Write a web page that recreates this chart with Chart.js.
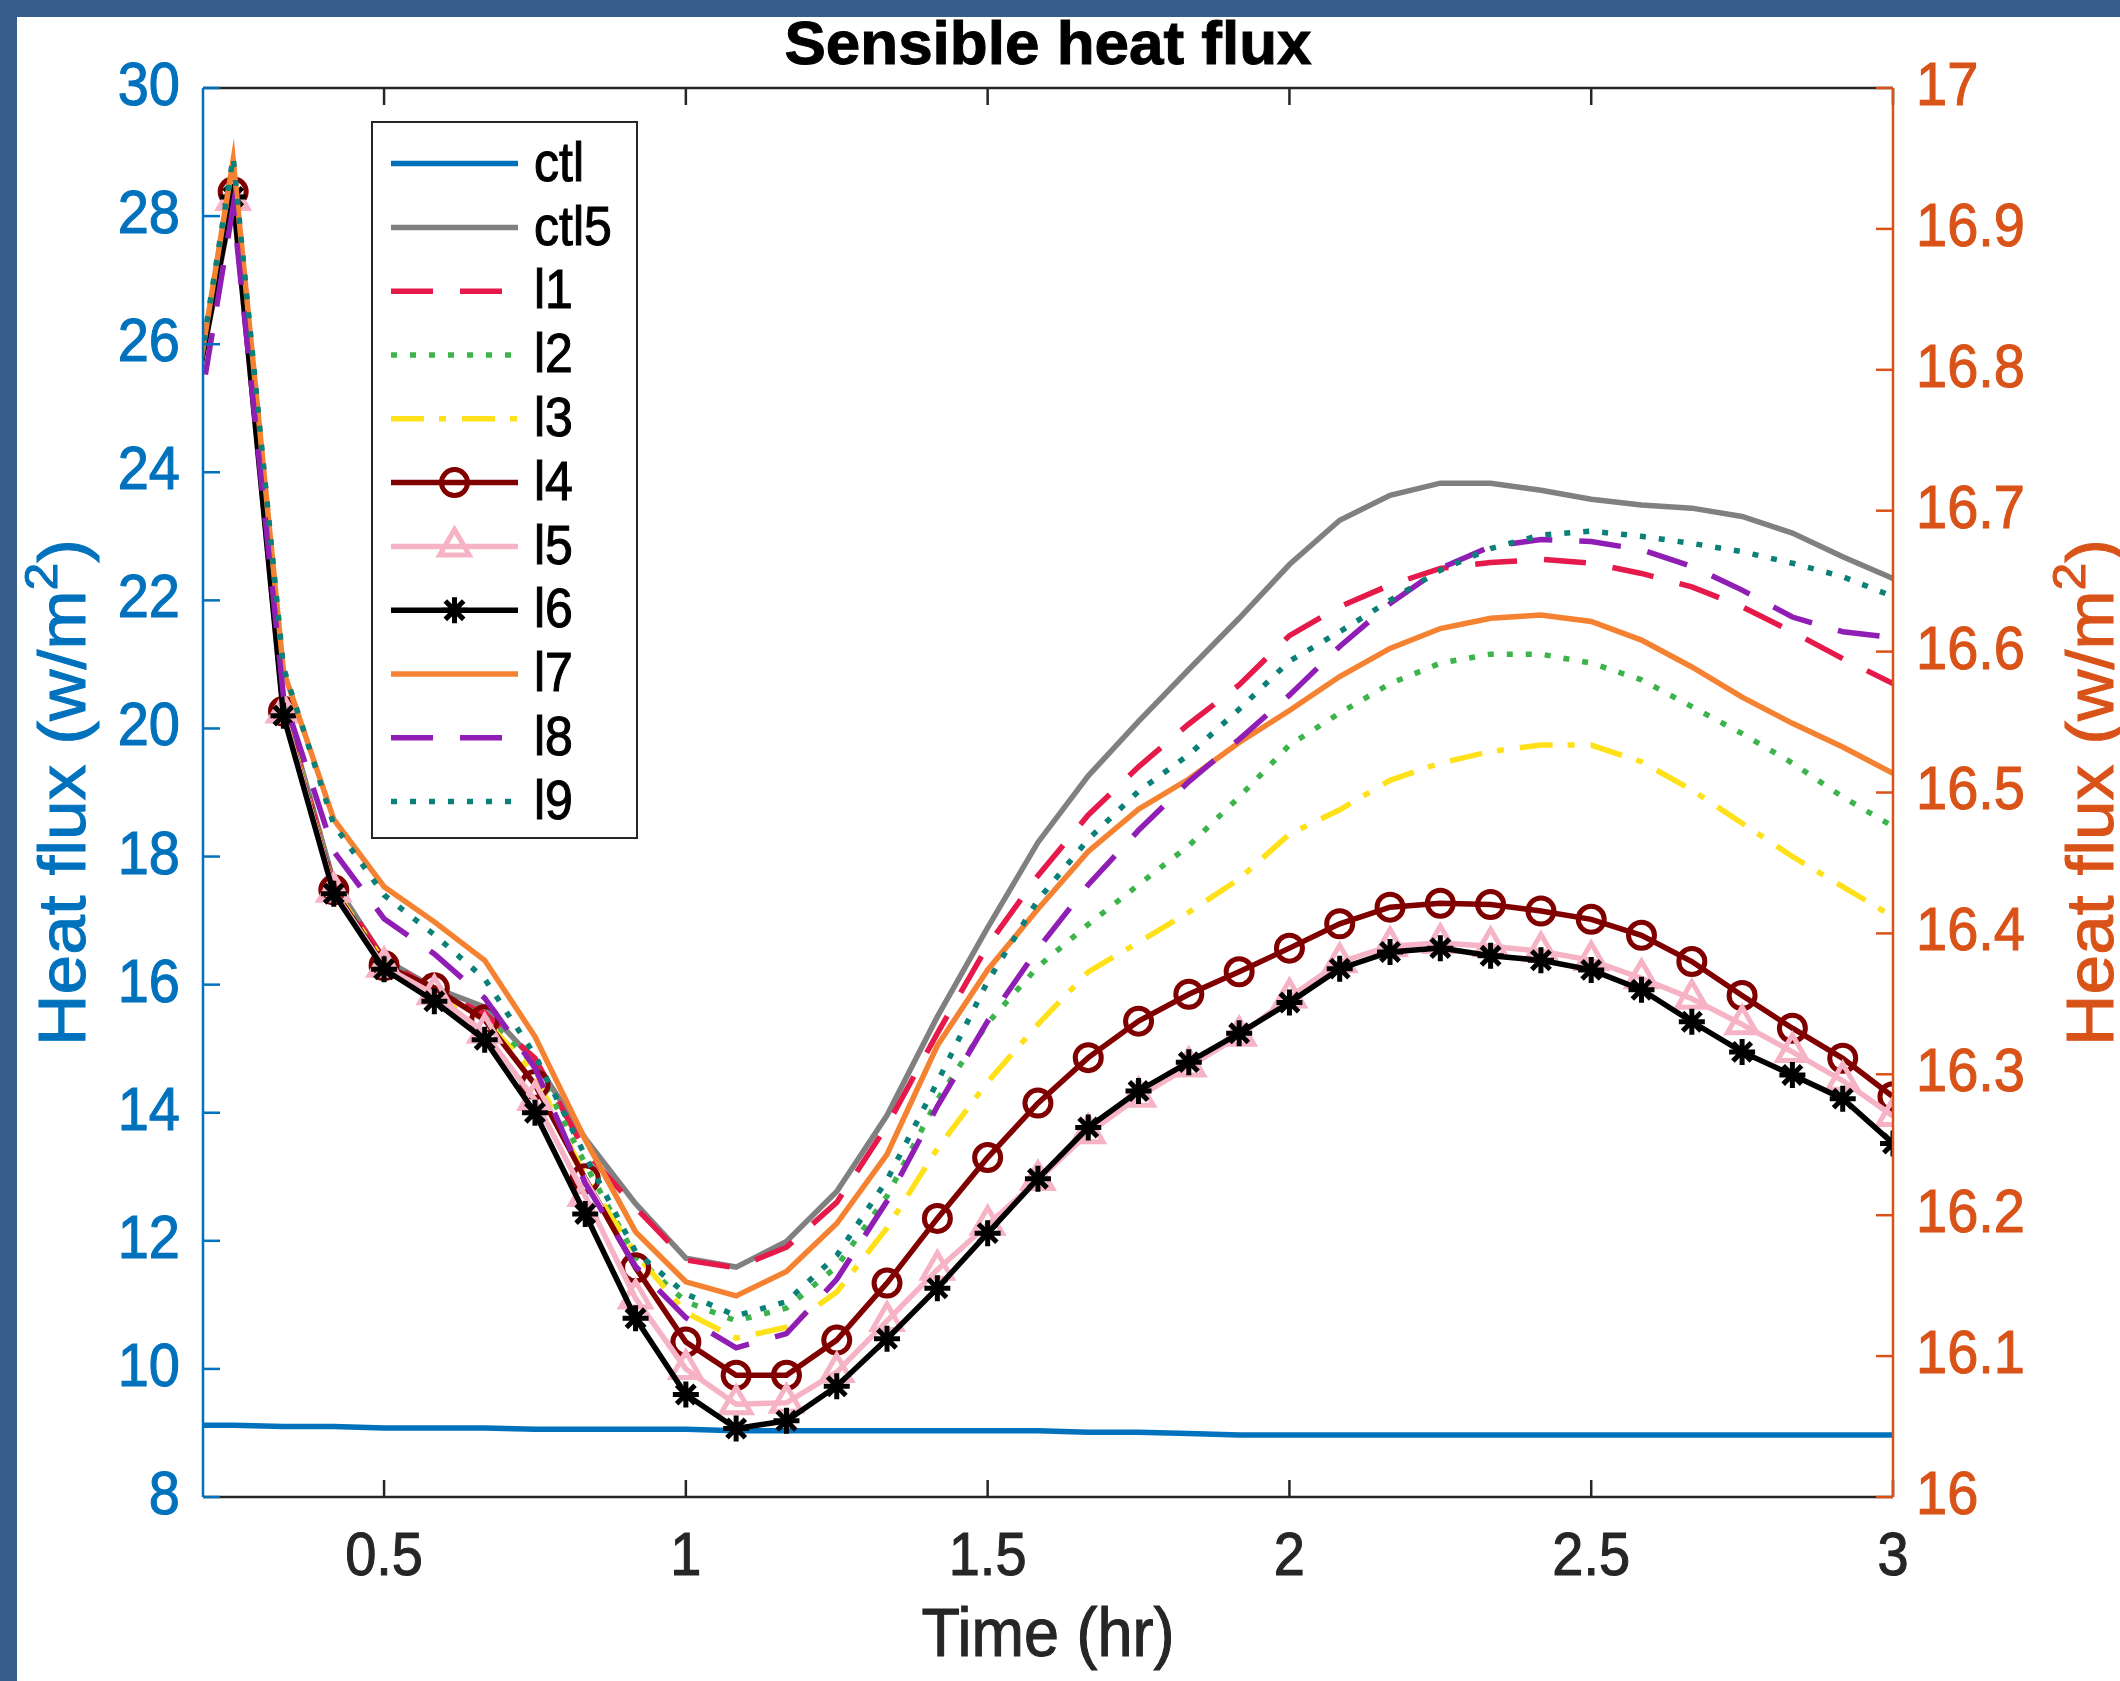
<!DOCTYPE html>
<html>
<head>
<meta charset="utf-8">
<title>Sensible heat flux</title>
<script src="https://cdn.jsdelivr.net/npm/chart.js@4.4.1/dist/chart.umd.min.js"></script>
<style>
    html, body { margin: 0; padding: 0; background: #395d8b; }
    body { width: 2120px; height: 1681px; overflow: hidden; position: relative; }
    #wrap { position: absolute; left: 17px; top: 17px; width: 2103px; height: 1664px; background: #ffffff; }
</style>
</head>
<body>
<div id="wrap"><canvas id="heatChart"></canvas></div>
<script>
// time in hours, every 5 minutes (first point sits left of the axis and gets clipped)
const times = [0.1667, 0.25, 0.3333, 0.4167, 0.5, 0.5833, 0.6667, 0.75, 0.8333, 0.9167,
    1.0, 1.0833, 1.1667, 1.25, 1.3333, 1.4167, 1.5, 1.5833, 1.6667, 1.75,
    1.8333, 1.9167, 2.0, 2.0833, 2.1667, 2.25, 2.3333, 2.4167, 2.5, 2.5833,
    2.6667, 2.75, 2.8333, 2.9167, 3.0];

// right axis
const ctl = [16.051, 16.051, 16.050, 16.050, 16.049, 16.049, 16.049, 16.048, 16.048, 16.048,
    16.048, 16.047, 16.047, 16.047, 16.047, 16.047, 16.047, 16.047, 16.046, 16.046,
    16.045, 16.044, 16.044, 16.044, 16.044, 16.044, 16.044, 16.044, 16.044, 16.044,
    16.044, 16.044, 16.044, 16.044, 16.044];

// left axis
const ctl5 = [24.2, 28.5, 20.4, 17.6, 16.4, 15.95, 15.65, 14.8, 13.6, 12.58,
    11.73, 11.59, 11.99, 12.77, 13.96, 15.5, 16.89, 18.22, 19.26, 20.11,
    20.92, 21.72, 22.56, 23.25, 23.64, 23.83, 23.83, 23.72, 23.58, 23.49,
    23.44, 23.31, 23.05, 22.68, 22.34];
const l1 = [24.2, 28.5, 20.35, 17.55, 16.4, 15.9, 15.55, 14.85, 13.4, 12.52,
    11.7, 11.58, 11.9, 12.6, 13.8, 15.24, 16.61, 17.7, 18.65, 19.4,
    20.07, 20.68, 21.45, 21.9, 22.24, 22.5, 22.59, 22.64, 22.58, 22.42,
    22.21, 21.9, 21.51, 21.09, 20.7];
const l2 = [24.2, 28.5, 20.35, 17.5, 16.35, 15.85, 15.5, 14.75, 13.2, 11.75,
    11.05, 10.75, 10.95, 11.6, 12.7, 14.2, 15.4, 16.28, 16.94, 17.56,
    18.17, 18.93, 19.74, 20.24, 20.7, 21.02, 21.16, 21.16, 21.02, 20.76,
    20.34, 19.92, 19.46, 18.93, 18.47];
const l3 = [24.2, 28.5, 20.3, 17.5, 16.35, 15.85, 15.45, 14.6, 13.0, 11.8,
    10.88, 10.48, 10.65, 11.2, 12.2, 13.44, 14.48, 15.38, 16.2, 16.66,
    17.13, 17.65, 18.35, 18.73, 19.19, 19.46, 19.64, 19.74, 19.74, 19.48,
    19.04, 18.52, 18.0, 17.53, 17.06];
const l4 = [24.25, 28.38, 20.27, 17.48, 16.3, 15.95, 15.45, 14.44, 12.97, 11.58,
    10.42, 9.9, 9.9, 10.45, 11.34, 12.35, 13.3, 14.15, 14.86, 15.43,
    15.85, 16.2, 16.57, 16.95, 17.21, 17.27, 17.25, 17.15, 17.02, 16.77,
    16.36, 15.83, 15.32, 14.85, 14.25];
const l5 = [24.2, 28.25, 20.25, 17.45, 16.28, 15.85, 15.25, 14.2, 12.7, 11.1,
    10.0, 9.45, 9.47, 9.95, 10.75, 11.55, 12.25, 12.95, 13.68, 14.25,
    14.72, 15.2, 15.8, 16.35, 16.6, 16.65, 16.6, 16.52, 16.38, 16.1,
    15.78, 15.38, 14.95, 14.5, 13.95];
const l6 = [24.2, 28.3, 20.2, 17.42, 16.24, 15.74, 15.14, 14.0, 12.42, 10.79,
    9.6, 9.07, 9.19, 9.73, 10.47, 11.26, 12.12, 12.97, 13.77, 14.34,
    14.79, 15.24, 15.72, 16.25, 16.51, 16.57, 16.45, 16.38, 16.23, 15.92,
    15.42, 14.95, 14.59, 14.22, 13.52];
const l7 = [23.98, 28.88, 20.9, 18.58, 17.53, 16.98, 16.38, 15.19, 13.58, 12.14,
    11.36, 11.14, 11.52, 12.27, 13.35, 15.05, 16.23, 17.18, 18.08, 18.74,
    19.21, 19.78, 20.28, 20.81, 21.25, 21.56, 21.72, 21.77, 21.67, 21.38,
    20.96, 20.49, 20.08, 19.71, 19.3];
const l8 = [23.4, 28.15, 20.5, 18.08, 17.03, 16.48, 15.79, 14.7, 12.9, 11.6,
    10.8, 10.33, 10.55, 11.4, 12.62, 14.1, 15.43, 16.56, 17.56, 18.41,
    19.17, 19.83, 20.52, 21.28, 21.95, 22.5, 22.84, 22.95, 22.92, 22.79,
    22.53, 22.16, 21.74, 21.51, 21.42];
const l9 = [24.0, 28.92, 20.95, 18.5, 17.4, 16.78, 16.09, 14.9, 13.33, 11.83,
    11.17, 10.83, 11.05, 11.77, 12.95, 14.48, 16.05, 17.32, 18.27, 19.02,
    19.59, 20.3, 21.05, 21.51, 22.0, 22.47, 22.81, 23.02, 23.08, 23.0,
    22.89, 22.76, 22.58, 22.37, 22.06];

const xTicks = [0.5, 1, 1.5, 2, 2.5, 3];
const leftTicks = [8, 10, 12, 14, 16, 18, 20, 22, 24, 26, 28, 30];
const rightTicks = [16, 16.1, 16.2, 16.3, 16.4, 16.5, 16.6, 16.7, 16.8, 16.9, 17];

const FONT = '"Liberation Sans", Arial, Helvetica, sans-serif';
const blueAxis = '#0072bd';
const orangeAxis = '#d95319';
const dark = '#262626';
const LW = 5.5;

function series(label, values, color, extra) {
    return Object.assign({
        label: label,
        data: values.map((v, i) => ({ x: times[i], y: v })),
        borderColor: color,
        backgroundColor: color,
        borderWidth: LW,
        pointRadius: 0,
        tension: 0,
        yAxisID: 'y'
    }, extra || {});
}

const datasets = [
    series('ctl', ctl, '#0072bd', { yAxisID: 'y1' }),
    series('ctl5', ctl5, '#808080'),
    series('l1', l1, '#e6194b', { borderDash: [42, 27] }),
    series('l2', l2, '#3cb44b', { borderDash: [6, 13] }),
    series('l3', l3, '#ffe119', { borderDash: [33, 15, 7, 16] }),
    series('l4', l4, '#800000', { pointStyle: 'circle', pointRadius: 13, pointBorderWidth: 5,
        pointBackgroundColor: 'rgba(0,0,0,0)' }),
    series('l5', l5, '#f7b3c6', { pointStyle: 'triangle', pointRadius: 17, pointBorderWidth: 5,
        pointBackgroundColor: 'rgba(0,0,0,0)' }),
    series('l6', l6, '#000000', { pointStyle: 'star', pointRadius: 13, pointBorderWidth: 5 }),
    series('l7', l7, '#f58231'),
    series('l8', l8, '#911eb4', { borderDash: [42, 27] }),
    series('l9', l9, '#0b8078', { borderDash: [6, 13] })
];
// later series on top, like the original plot
datasets.forEach((d, i) => { d.order = datasets.length - i; });

function line(ctx, x1, y1, x2, y2) {
    ctx.beginPath();
    ctx.moveTo(x1, y1);
    ctx.lineTo(x2, y2);
    ctx.stroke();
}

// text is drawn slightly taller than wide, as in the original screenshot
function label(ctx, txt, x, y, size, color, align, baseline, weight, stretch) {
    ctx.save();
    ctx.translate(x, y);
    ctx.scale(1, stretch || 1.1);
    ctx.font = (weight || '') + ' ' + size + 'px ' + FONT;
    ctx.fillStyle = color;
    ctx.strokeStyle = color;
    ctx.lineWidth = 1;
    ctx.textAlign = align;
    ctx.textBaseline = baseline;
    ctx.fillText(txt, 0, 0);
    ctx.strokeText(txt, 0, 0);
    ctx.restore();
}

function fluxTitle(ctx, cx, cy, color) {
    const F = 66, S = 46;
    ctx.save();
    ctx.translate(cx, cy);
    ctx.scale(1, 1.08);
    ctx.rotate(-Math.PI / 2);
    ctx.fillStyle = color;
    ctx.strokeStyle = color;
    ctx.lineWidth = 1;
    ctx.textAlign = 'left';
    ctx.textBaseline = 'alphabetic';
    ctx.font = F + 'px ' + FONT;
    const p1 = 'Heat flux (w/m';
    const w1 = ctx.measureText(p1).width;
    const w3 = ctx.measureText(')').width;
    ctx.font = S + 'px ' + FONT;
    const w2 = ctx.measureText('2').width;
    const x0 = -(w1 + w2 + w3) / 2;
    const base = F * 0.3;
    ctx.font = F + 'px ' + FONT;
    ctx.fillText(p1, x0, base);
    ctx.strokeText(p1, x0, base);
    ctx.fillText(')', x0 + w1 + w2, base);
    ctx.strokeText(')', x0 + w1 + w2, base);
    ctx.font = S + 'px ' + FONT;
    ctx.fillText('2', x0 + w1, base - F * 0.42);
    ctx.strokeText('2', x0 + w1, base - F * 0.42);
    ctx.restore();
}

// axes box, inward ticks, labels, titles and the boxed legend
const matlabAxes = {
    id: 'matlabAxes',
    afterDraw(chart) {
        const ctx = chart.ctx;
        const a = chart.chartArea;
        const sx = chart.scales.x, sy = chart.scales.y, sy1 = chart.scales.y1;
        const tickLen = 17;
        ctx.save();
        ctx.lineWidth = 2.5;
        ctx.setLineDash([]);

        ctx.strokeStyle = dark;
        line(ctx, a.left, a.bottom, a.right, a.bottom);
        line(ctx, a.left, a.top, a.right, a.top);
        xTicks.forEach(v => {
            const px = sx.getPixelForValue(v);
            line(ctx, px, a.bottom, px, a.bottom - tickLen);
            line(ctx, px, a.top, px, a.top + tickLen);
        });

        ctx.strokeStyle = blueAxis;
        line(ctx, a.left, a.top, a.left, a.bottom);
        leftTicks.forEach(v => {
            const py = sy.getPixelForValue(v);
            line(ctx, a.left, py, a.left + tickLen, py);
        });

        ctx.strokeStyle = orangeAxis;
        line(ctx, a.right, a.top, a.right, a.bottom);
        rightTicks.forEach(v => {
            const py = sy1.getPixelForValue(v);
            line(ctx, a.right, py, a.right - tickLen, py);
        });

        // tick labels
        xTicks.forEach(v => label(ctx, String(v), sx.getPixelForValue(v), a.bottom + 78,
            56, dark, 'center', 'alphabetic'));
        leftTicks.forEach(v => label(ctx, String(v), a.left - 23, sy.getPixelForValue(v),
            56, blueAxis, 'right', 'middle'));
        rightTicks.forEach(v => {
            const txt = Number.isInteger(v) ? String(v) : v.toFixed(1);
            label(ctx, txt, a.right + 23, sy1.getPixelForValue(v), 56, orangeAxis, 'left', 'middle');
        });

        // axis titles
        const midY = (a.top + a.bottom) / 2;
        label(ctx, 'Time (hr)', (a.left + a.right) / 2, a.bottom + 159, 63, dark, 'center', 'alphabetic');
        fluxTitle(ctx, a.left - 138, midY, blueAxis);
        fluxTitle(ctx, a.right + 200, midY, orangeAxis);

        // title
        label(ctx, 'Sensible heat flux', (a.left + a.right) / 2, a.top - 24, 62, '#000000',
            'center', 'alphabetic', 'bold', 1.0);

        // legend
        const lx = a.left + 169, ly = a.top + 34, lw = 265, lh = 716;
        ctx.fillStyle = '#ffffff';
        ctx.fillRect(lx, ly, lw, lh);
        ctx.strokeStyle = dark;
        ctx.lineWidth = 2;
        ctx.strokeRect(lx, ly, lw, lh);
        chart.data.datasets.forEach((d, i) => {
            const yy = ly + 41.6 + 63.8 * i;
            ctx.strokeStyle = d.borderColor;
            ctx.lineWidth = d.borderWidth;
            ctx.setLineDash(d.borderDash || []);
            line(ctx, lx + 19, yy, lx + 146, yy);
            ctx.setLineDash([]);
            if (d.pointRadius > 0) {
                ctx.lineWidth = d.pointBorderWidth;
                ctx.fillStyle = 'rgba(0,0,0,0)';
                Chart.helpers.drawPoint(ctx, {
                    pointStyle: d.pointStyle, radius: d.pointRadius,
                    borderWidth: d.pointBorderWidth, rotation: 0
                }, lx + 82.5, yy);
            }
            label(ctx, d.label, lx + 162, yy + 2, 50, '#000000', 'left', 'middle');
        });
        ctx.restore();
    }
};

const hiddenAxis = { display: false };

new Chart(document.getElementById('heatChart'), {
    type: 'line',
    data: { datasets: datasets },
    options: {
        responsive: true,
        maintainAspectRatio: false,
        animation: false,
        devicePixelRatio: 1,
        layout: { padding: { top: 71, left: 0, right: 0, bottom: 0 } },
        plugins: {
            legend: { display: false },
            title: { display: false },
            tooltip: { enabled: false }
        },
        scales: {
            x: {
                type: 'linear', min: 0.2, max: 3,
                grid: hiddenAxis, border: hiddenAxis, ticks: { display: false },
                afterBuildTicks: s => { s.ticks = xTicks.map(v => ({ value: v })); },
                afterFit: s => { s.height = 184; }
            },
            y: {
                type: 'linear', position: 'left', min: 8, max: 30,
                grid: hiddenAxis, border: hiddenAxis, ticks: { display: false },
                afterBuildTicks: s => { s.ticks = leftTicks.map(v => ({ value: v })); },
                afterFit: s => { s.width = 186; }
            },
            y1: {
                type: 'linear', position: 'right', min: 16, max: 17,
                grid: hiddenAxis, border: hiddenAxis, ticks: { display: false },
                afterBuildTicks: s => { s.ticks = rightTicks.map(v => ({ value: v })); },
                afterFit: s => { s.width = 227; }
            }
        }
    },
    plugins: [matlabAxes]
});
</script>
</body>
</html>
